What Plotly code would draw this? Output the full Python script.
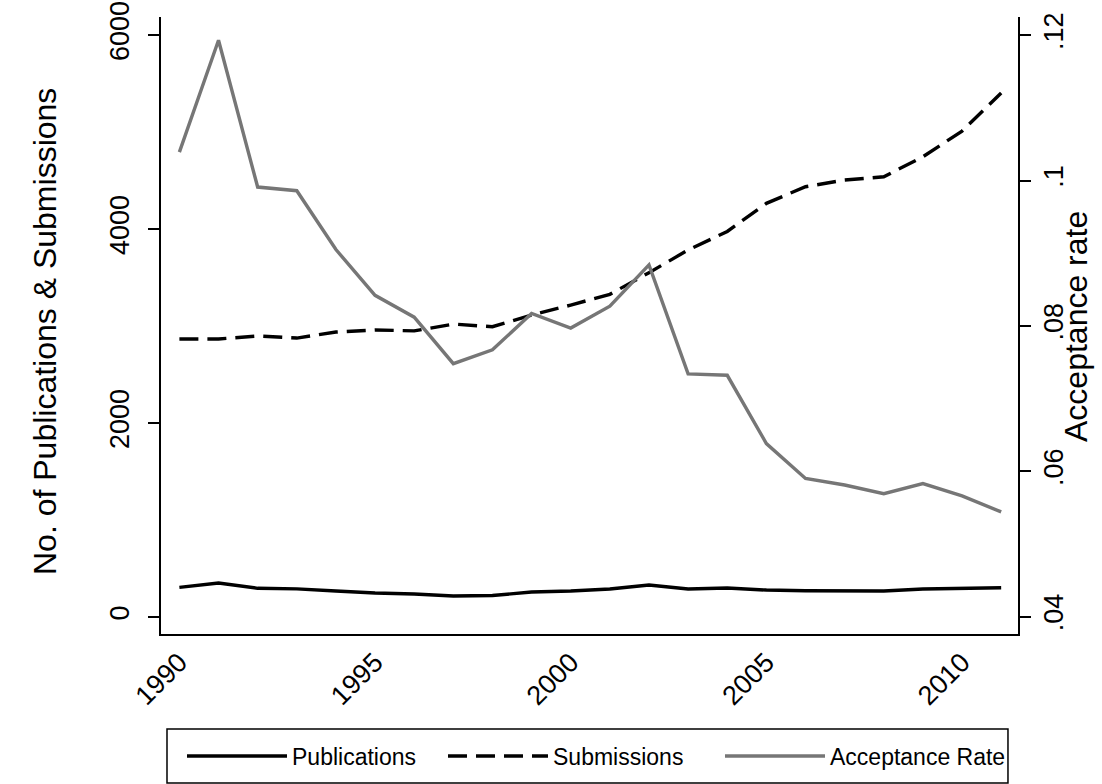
import plotly.graph_objects as go

# ---------------------------------------------------------------- data
YEARS = list(range(1990, 2012))

PUBLICATIONS = [306, 350, 296, 290, 268, 247, 237, 216, 222, 258, 268,
                289, 330, 289, 299, 278, 271, 271, 268, 289, 296, 302]

SUBMISSIONS = [2866, 2866, 2897, 2876, 2938, 2959, 2950, 3020, 2993, 3113,
               3216, 3327, 3550, 3784, 3975, 4265, 4436, 4505, 4539, 4745,
               5010, 5402]

ACCEPTANCE = [0.1039, 0.1193, 0.0991, 0.0986, 0.0905, 0.0842, 0.0812,
              0.0748, 0.0767, 0.0817, 0.0797, 0.0827, 0.0884, 0.0734,
              0.0732, 0.0638, 0.0590, 0.0581, 0.0569, 0.0583, 0.0566,
              0.0544]

LEFT_TICKS = [0, 2000, 4000, 6000]
RIGHT_TICKS = [0.04, 0.06, 0.08, 0.10, 0.12]
RIGHT_LABELS = [".04", ".06", ".08", ".1", ".12"]
X_TICKS = [1990, 1995, 2000, 2005, 2010]

FONT = "Liberation Sans, Arial, sans-serif"
GREY = "#767676"
LW = 3.4

# ---------------------------------------------------------------- figure
fig = go.Figure()
fig.add_trace(go.Scatter(x=YEARS, y=PUBLICATIONS, name="Publications",
                         mode="lines", legendwidth=146,
                         line=dict(color="black", width=LW)))
fig.add_trace(go.Scatter(x=YEARS, y=SUBMISSIONS, name="Submissions",
                         mode="lines", legendwidth=162,
                         line=dict(color="black", width=LW,
                                   dash="19px,9px")))
fig.add_trace(go.Scatter(x=YEARS, y=ACCEPTANCE, name="Acceptance Rate",
                         mode="lines", yaxis="y2", legendwidth=185,
                         line=dict(color=GREY, width=LW)))

axis_common = dict(showgrid=False, zeroline=False, showline=True,
                   linecolor="black", linewidth=1.5, automargin=False,
                   ticklabeloverflow="allow",
                   tickfont=dict(family=FONT, size=27, color="black"))

fig.update_layout(
    width=1102, height=784,
    margin=dict(l=161, r=84, t=17, b=150),
    paper_bgcolor="white", plot_bgcolor="white",
    font=dict(family=FONT, color="black"),
    xaxis=dict(**axis_common, range=[1989.53, 2011.43],
               tickvals=X_TICKS, tickangle=-45, ticks=""),
    yaxis=dict(**axis_common, range=[-175, 6186], tickvals=LEFT_TICKS,
               ticks="outside", ticklen=11, tickwidth=1.5,
               tickcolor="black", tickangle=-90, ticklabelstandoff=8),
    yaxis2=dict(**axis_common, overlaying="y", side="right",
                range=[0.0376, 0.1225], tickvals=RIGHT_TICKS,
                ticktext=RIGHT_LABELS, ticks="outside", ticklen=11,
                tickwidth=1.5, tickcolor="black", tickangle=-90),
    legend=dict(orientation="h", x=0.0245, xanchor="left",
                yref="container", y=0.0631, yanchor="top",
                borderwidth=0, bgcolor="rgba(0,0,0,0)",
                font=dict(family=FONT, size=23, color="black"),
                itemwidth=100),
    showlegend=True,
)

# legend frame
fig.add_shape(type="rect", xref="paper", yref="paper",
              x0=0.007, x1=0.9883, y0=-0.2415, y1=-0.154,
              line=dict(color="black", width=1.5))

# axis titles placed as rotated annotations
fig.add_annotation(text="No. of Publications & Submissions",
                   xref="paper", yref="paper", x=-0.1354, y=0.491,
                   xanchor="center", yanchor="middle", textangle=-90,
                   showarrow=False, font=dict(family=FONT, size=32))
fig.add_annotation(text="Acceptance rate",
                   xref="paper", yref="paper", x=1.0677, y=0.4976,
                   xanchor="center", yanchor="middle", textangle=-90,
                   showarrow=False, font=dict(family=FONT, size=32))

# drop the default 8px page margin so the figure fills the window exactly
fig.write_html("out.html", config={"displayModeBar": False},
               post_script="document.body.style.margin='0';")
